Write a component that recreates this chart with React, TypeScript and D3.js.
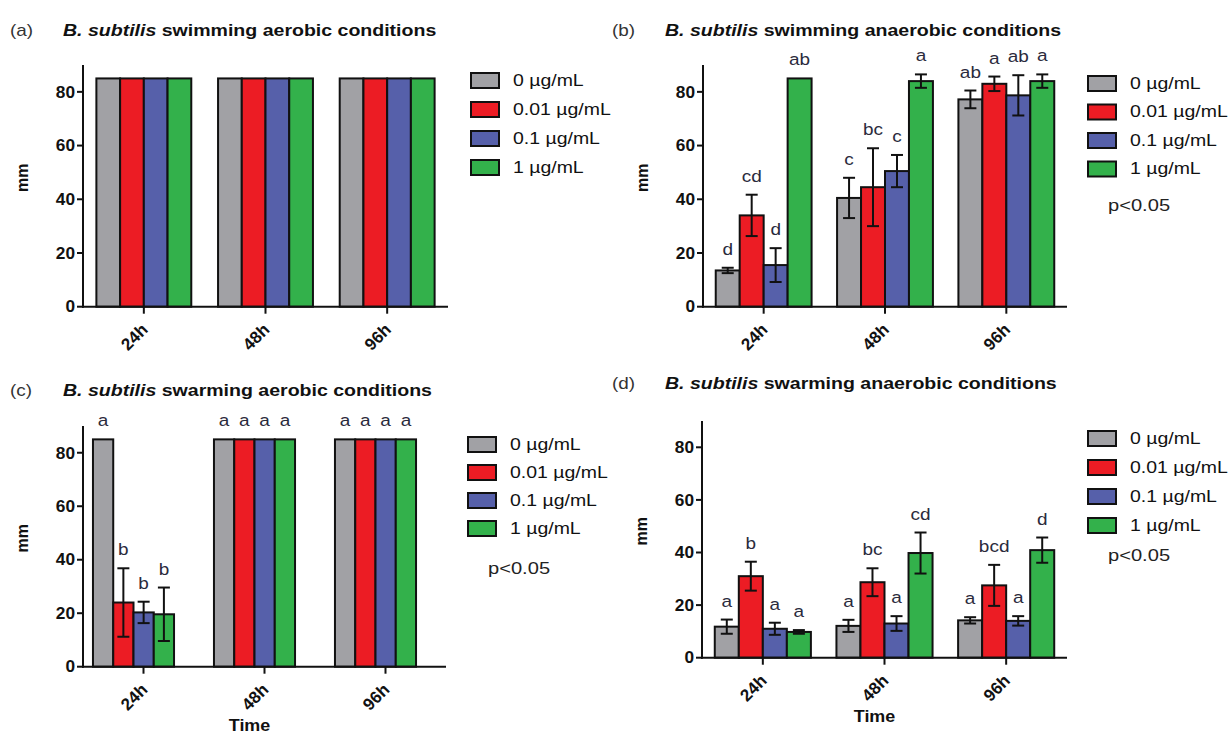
import React from 'react';
import * as d3 from 'd3';

// categories
const times = ['24h', '48h', '96h'];
const doses = ['0 µg/mL', '0.01 µg/mL', '0.1 µg/mL', '1 µg/mL'];
const doseColors = ['#a1a1a5', '#ec1c24', '#5660aa', '#33b14b'];
const yTicks = [0, 20, 40, 60, 80];

// values per time point (rows) and dose (columns), in mm
const swimAeroMean = [[85, 85, 85, 85], [85, 85, 85, 85], [85, 85, 85, 85]];
const swimAeroErr = [[0, 0, 0, 0], [0, 0, 0, 0], [0, 0, 0, 0]];

const swimAnaeroMean = [[13.5, 34, 15.5, 85], [40.5, 44.5, 50.5, 84], [77.2, 83, 78.7, 84]];
const swimAnaeroErr = [[1, 7.7, 6.3, 0], [7.5, 14.5, 6, 2.5], [3.3, 2.7, 7.5, 2.5]];
const swimAnaeroLetters = [['d', 'cd', 'd', 'ab'], ['c', 'bc', 'c', 'a'], ['ab', 'a', 'ab', 'a']];

const swarmAeroMean = [[85, 24, 20.3, 19.6], [85, 85, 85, 85], [85, 85, 85, 85]];
const swarmAeroErr = [[0, 12.8, 4, 10], [0, 0, 0, 0], [0, 0, 0, 0]];
const swarmAeroLetters = [['a', 'b', 'b', 'b'], ['a', 'a', 'a', 'a'], ['a', 'a', 'a', 'a']];

const swarmAnaeroMean = [[11.8, 31, 11, 9.8], [12.1, 28.7, 13, 39.8], [14.2, 27.5, 14, 40.9]];
const swarmAnaeroErr = [[2.7, 5.5, 2.3, 0.7], [2.3, 5.3, 2.8, 7.8], [1.2, 7.8, 1.8, 4.8]];
const swarmAnaeroLetters = [['a', 'b', 'a', 'a'], ['a', 'bc', 'a', 'cd'], ['a', 'bcd', 'a', 'd']];

const FONT = 'Arial, "Liberation Sans", Helvetica, sans-serif';
const letterColor = '#2a2a3c';

// the original figure's text is a bit wider than Arial, so stretch it sideways
function SText({ x, y, sx = 1.18, children, ...rest }: any) {
  return (
    <text transform={`translate(${x},${y}) scale(${sx},1)`} {...rest}>{children}</text>
  );
}

type PanelProps = {
  tag: string;
  mode: string; // swimming / swarming
  cond: string; // aerobic / anaerobic
  titleX: number;
  titleY: number;
  x0: number;
  x1: number;
  y0: number;
  yTop: number;
  pad: number;
  shift: number;
  means: number[][];
  errs: number[][];
  letters?: string[][];
  legendX: number;
  legendY: number;
  legendStep: number;
  pY?: number;
  timeLabel?: boolean;
};

function Panel(p: PanelProps) {
  const y = d3.scaleLinear().domain([0, 90]).range([p.y0, p.yTop]);
  const xg = d3.scaleBand().domain(times).range([p.x0, p.x1]).paddingInner(p.pad).paddingOuter(p.pad / 2);
  const xb = d3.scaleBand().domain(doses).range([0, xg.bandwidth()]);
  const midY = (p.y0 + p.yTop) / 2;

  return (
    <g fontFamily={FONT}>
      {/* title */}
      <SText x={p.titleX - 53} y={p.titleY} fontSize={16} fill="#333">({p.tag})</SText>
      <SText x={p.titleX} y={p.titleY} sx={1.15} fontSize={17} fontWeight="bold" fill="#111">
        <tspan fontStyle="italic">B. subtilis</tspan> {p.mode} {p.cond} conditions
      </SText>

      {/* bars */}
      {times.map((t, i) => (
        <g key={t} transform={`translate(${xg(t)! + p.shift},0)`}>
          {doses.map((d, j) => {
            const v = p.means[i][j];
            const e = p.errs[i][j];
            const cx = xb(d)! + xb.bandwidth() / 2;
            const top = e > 0 ? y(v + e) : y(v);
            return (
              <g key={d}>
                <rect x={xb(d)!} y={y(v)} width={xb.bandwidth()} height={p.y0 - y(v)}
                  fill={doseColors[j]} stroke="#111" strokeWidth={2} />
                {e > 0 && (
                  <g stroke="#111" strokeWidth={2}>
                    <line x1={cx} x2={cx} y1={y(v + e)} y2={y(v - e)} />
                    <line x1={cx - 6} x2={cx + 6} y1={y(v + e)} y2={y(v + e)} />
                    <line x1={cx - 6} x2={cx + 6} y1={y(v - e)} y2={y(v - e)} />
                  </g>
                )}
                {p.letters && (
                  <SText x={cx} y={top - 13} sx={1.15} textAnchor="middle" fontSize={16.5} fill={letterColor}>
                    {p.letters[i][j]}
                  </SText>
                )}
              </g>
            );
          })}
        </g>
      ))}

      {/* y axis */}
      <line x1={p.x0} x2={p.x0} y1={p.yTop} y2={p.y0 + 1} stroke="#111" strokeWidth={2} />
      {yTicks.map(t => (
        <g key={t}>
          <line x1={p.x0 - 6} x2={p.x0} y1={y(t)} y2={y(t)} stroke="#111" strokeWidth={2} />
          <SText x={p.x0 - 8} y={y(t)} sx={1.08} dy="0.36em" textAnchor="end" fontSize={16} fontWeight="bold" fill="#111">{t}</SText>
        </g>
      ))}
      <text transform={`translate(${p.x0 - 55},${midY - 8}) rotate(-90)`} textAnchor="middle"
        fontSize={16} fontWeight="bold" fill="#111">mm</text>

      {/* x axis */}
      <line x1={p.x0 - 1} x2={p.x1} y1={p.y0} y2={p.y0} stroke="#111" strokeWidth={2} />
      {times.map(t => {
        const cx = xg(t)! + xg.bandwidth() / 2;
        return (
          <g key={t}>
            <line x1={cx} x2={cx} y1={p.y0} y2={p.y0 + 7} stroke="#111" strokeWidth={2} />
            <text transform={`translate(${cx + 5},${p.y0 + 24}) rotate(-45)`} textAnchor="end"
              fontSize={17} fontWeight="bold" fill="#111">{t}</text>
          </g>
        );
      })}
      {p.timeLabel && (
        <SText x={(p.x0 + p.x1) / 2 - 10 + p.shift / 2} y={p.y0 + 64} sx={1.12} textAnchor="middle" fontSize={16} fontWeight="bold" fill="#111">Time</SText>
      )}

      {/* legend */}
      {doses.map((d, j) => (
        <g key={d} transform={`translate(${p.legendX},${p.legendY + j * p.legendStep})`}>
          <rect x={0} y={-7} width={28} height={15} fill={doseColors[j]} stroke="#111" strokeWidth={2} />
          <SText x={42} y={0} dy="0.36em" fontSize={16.5} fill="#111">{d}</SText>
        </g>
      ))}
      {p.pY !== undefined && (
        <SText x={p.legendX + 20} y={p.pY} sx={1.22} dy="0.36em" fontSize={16.5} fill="#222">p&lt;0.05</SText>
      )}
    </g>
  );
}

export default function App() {
  return (
    <svg width={1228} height={735} style={{ display: 'block', position: 'absolute', left: 0, top: 0 }}>
      <rect width={1228} height={735} fill="#fff" />
      <Panel tag="a" mode="swimming" cond="aerobic" titleX={63} titleY={36}
        x0={83} x1={448} y0={306.7} yTop={65} pad={0.22} shift={0}
        means={swimAeroMean} errs={swimAeroErr}
        legendX={471} legendY={80} legendStep={29} />
      <Panel tag="b" mode="swimming" cond="anaerobic" titleX={665} titleY={36}
        x0={703} x1={1067} y0={306.7} yTop={65} pad={0.21} shift={0}
        means={swimAnaeroMean} errs={swimAnaeroErr} letters={swimAnaeroLetters}
        legendX={1088} legendY={83} legendStep={28.5} pY={205} />
      <Panel tag="c" mode="swarming" cond="aerobic" titleX={63} titleY={396}
        x0={83} x1={446} y0={666.7} yTop={426} pad={0.33} shift={-10}
        means={swarmAeroMean} errs={swarmAeroErr} letters={swarmAeroLetters}
        legendX={468} legendY={444} legendStep={28} pY={568} timeLabel />
      <Panel tag="d" mode="swarming" cond="anaerobic" titleX={665} titleY={389}
        x0={702} x1={1067} y0={657.7} yTop={421} pad={0.21} shift={0}
        means={swarmAnaeroMean} errs={swarmAnaeroErr} letters={swarmAnaeroLetters}
        legendX={1088} legendY={438} legendStep={29} pY={555} timeLabel />
    </svg>
  );
}
